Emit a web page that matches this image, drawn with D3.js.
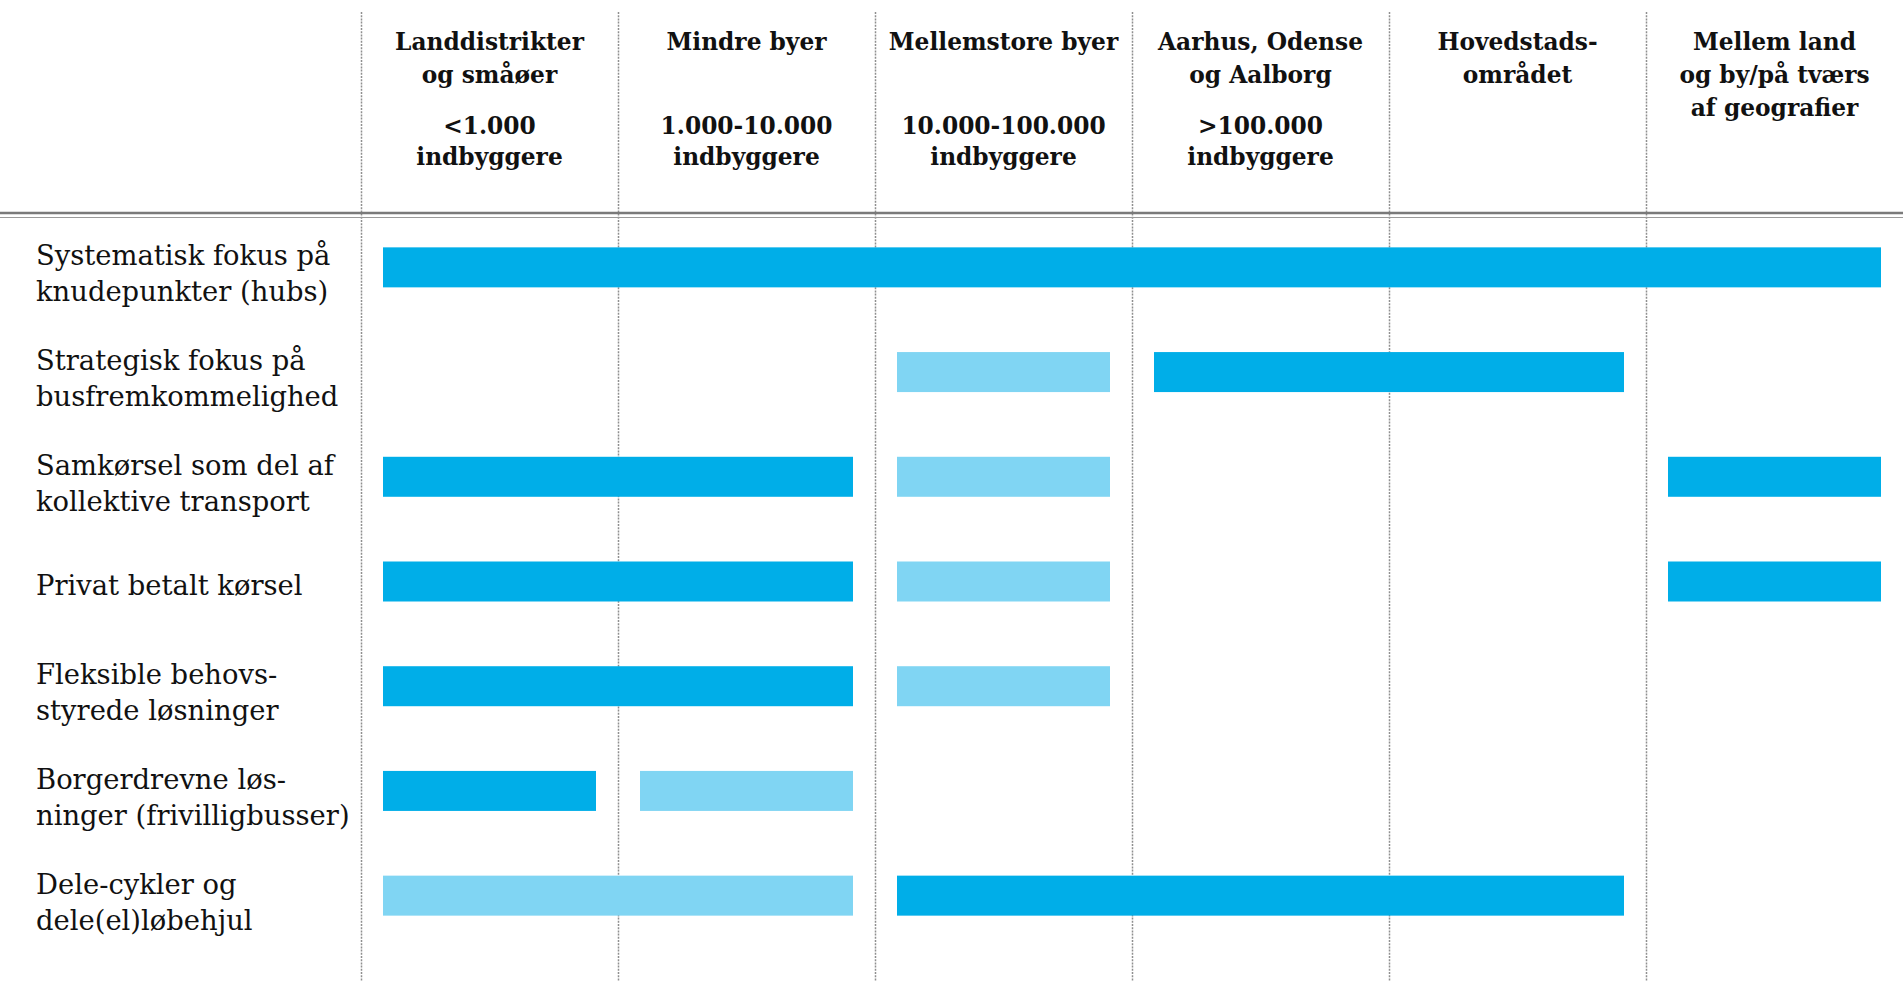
<!DOCTYPE html>
<html>
<head>
<meta charset="utf-8">
<script src="https://cdn.jsdelivr.net/npm/d3@7"></script>
<style>
  body { margin: 0; background: #fff; }
  svg { display: block; }
</style>
</head>
<body>
<div class="container"></div>
<script>
// Column headers (geographies)
const colTitles = [
  ['Landdistrikter', 'og småøer'],
  ['Mindre byer'],
  ['Mellemstore byer'],
  ['Aarhus, Odense', 'og Aalborg'],
  ['Hovedstads-', 'området'],
  ['Mellem land', 'og by/på tværs', 'af geografier'],
];
const colSizes = [
  ['<1.000', 'indbyggere'],
  ['1.000-10.000', 'indbyggere'],
  ['10.000-100.000', 'indbyggere'],
  ['>100.000', 'indbyggere'],
  [],
  [],
];

// Row labels (solutions)
const rowLabels = [
  ['Systematisk fokus på', 'knudepunkter (hubs)'],
  ['Strategisk fokus på', 'busfremkommelighed'],
  ['Samkørsel som del af', 'kollektive transport'],
  ['Privat betalt kørsel'],
  ['Fleksible behovs-', 'styrede løsninger'],
  ['Borgerdrevne løs-', 'ninger (frivilligbusser)'],
  ['Dele-cykler og', 'dele(el)løbehjul'],
];

// Bars: [row, first column, last column, relevance]
const bars = [
  [0, 0, 5, 'høj'],
  [1, 2, 2, 'mindre'],
  [1, 3, 4, 'høj'],
  [2, 0, 1, 'høj'],
  [2, 2, 2, 'mindre'],
  [2, 5, 5, 'høj'],
  [3, 0, 1, 'høj'],
  [3, 2, 2, 'mindre'],
  [3, 5, 5, 'høj'],
  [4, 0, 1, 'høj'],
  [4, 2, 2, 'mindre'],
  [5, 0, 0, 'høj'],
  [5, 1, 1, 'mindre'],
  [6, 0, 1, 'mindre'],
  [6, 2, 4, 'høj'],
];

const width = 1903;
const height = 981;
const labelLeft = 36;
const gridLeft = 361;
const headerRule = 213;
const barHeight = 40;
const barInset = 22;

const x = d3.scaleBand().domain(d3.range(colTitles.length)).range([gridLeft, width]);
const y = d3.scaleBand().domain(d3.range(rowLabels.length)).range([215, 948]);
const color = d3.scaleOrdinal().domain(['høj', 'mindre']).range(['#00aee8', '#80d5f3']);

const svg = d3
  .select('.container')
  .append('svg')
  .attr('width', width)
  .attr('height', height);

// Dashed column separators
svg
  .append('g')
  .selectAll('line')
  .data(x.domain())
  .enter()
  .append('line')
  .attr('x1', (d) => x(d) + 0.5)
  .attr('x2', (d) => x(d) + 0.5)
  .attr('y1', 12)
  .attr('y2', height)
  .attr('stroke', '#8f8f8f')
  .attr('stroke-width', 1.5)
  .attr('stroke-dasharray', '2 1.2');

// Double rule under header
svg.append('line')
  .attr('x1', 0).attr('x2', width)
  .attr('y1', headerRule).attr('y2', headerRule)
  .attr('stroke', '#7a7a7a').attr('stroke-width', 2.5);
svg.append('line')
  .attr('x1', 0).attr('x2', width)
  .attr('y1', headerRule + 4.5).attr('y2', headerRule + 4.5)
  .attr('stroke', '#9a9a9a').attr('stroke-width', 1);

// Header text
const head = svg
  .append('g')
  .selectAll('g')
  .data(x.domain())
  .enter()
  .append('g')
  .attr('transform', (d) => `translate(${x(d) + x.bandwidth() / 2}, 0)`)
  .style('font-family', '"DejaVu Serif", Georgia, serif')
  .style('font-weight', 'bold')
  .style('font-size', '23.3px')
  .attr('text-anchor', 'middle')
  .attr('fill', '#111');

head
  .selectAll('text.title')
  .data((d) => colTitles[d])
  .enter()
  .append('text')
  .attr('class', 'title')
  .attr('y', (d, i) => 50 + i * 33)
  .text((d) => d);

head
  .selectAll('text.size')
  .data((d) => colSizes[d])
  .enter()
  .append('text')
  .attr('class', 'size')
  .attr('y', (d, i) => 134 + i * 31)
  .text((d) => d);

// Row labels
const label = svg
  .append('g')
  .selectAll('text')
  .data(y.domain())
  .enter()
  .append('text')
  .attr('x', labelLeft)
  .attr('y', (d) => y(d) + y.bandwidth() / 2)
  .style('font-family', '"DejaVu Serif", Georgia, serif')
  .style('font-size', '27.4px')
  .attr('fill', '#111');

label
  .selectAll('tspan')
  .data((d) => rowLabels[d].map((t) => ({ t, n: rowLabels[d].length })))
  .enter()
  .append('tspan')
  .attr('x', labelLeft)
  .attr('dy', (d, i) => (i === 0 ? (d.n === 1 ? 13 : -2) : 36))
  .text((d) => d.t);

// Bars
svg
  .append('g')
  .selectAll('rect')
  .data(bars)
  .enter()
  .append('rect')
  .attr('x', (d) => x(d[1]) + barInset)
  .attr('width', (d) => x(d[2]) + x.bandwidth() - barInset - (x(d[1]) + barInset))
  .attr('y', (d) => y(d[0]) + y.bandwidth() / 2 - barHeight / 2)
  .attr('height', barHeight)
  .attr('fill', (d) => color(d[3]));
</script>
</body>
</html>
